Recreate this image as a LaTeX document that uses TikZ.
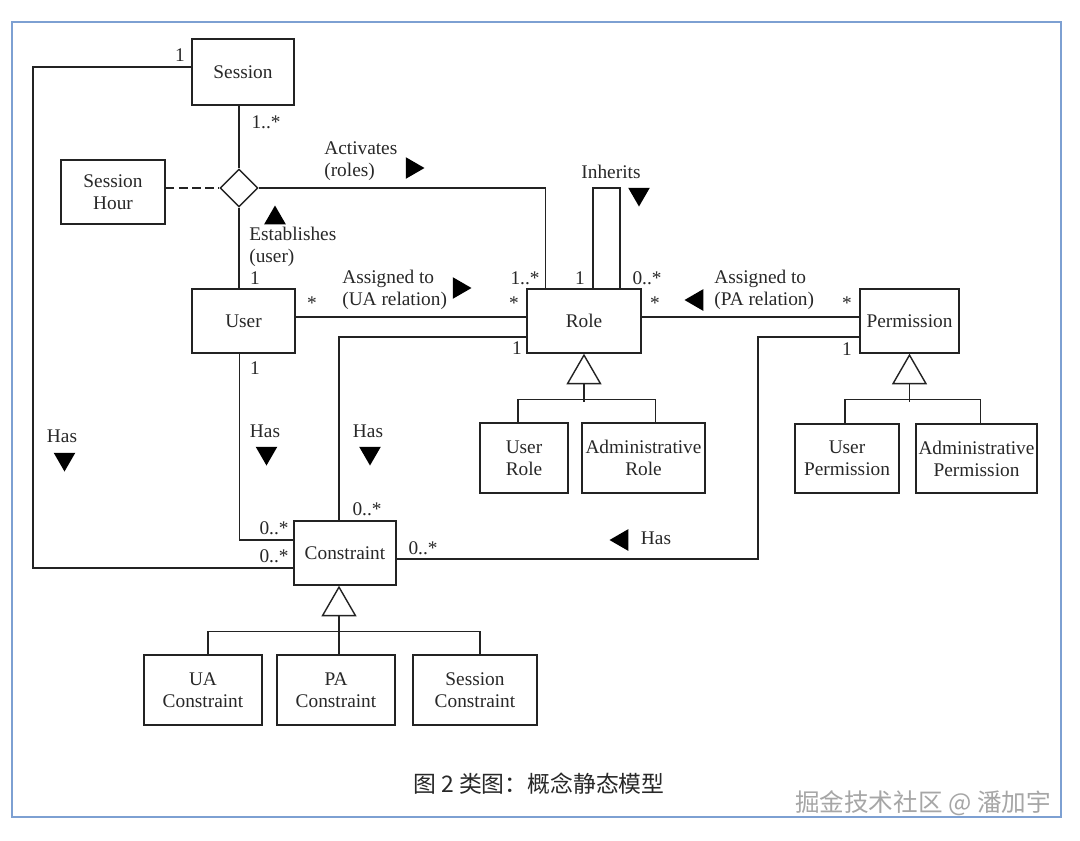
\documentclass[tikz,border=0pt]{standalone}
\usepackage{fontspec}
\setmainfont{Liberation Serif}
\newfontfamily\cjk{Noto Sans CJK SC}
\usetikzlibrary{shapes.geometric, calc}
\definecolor{linec}{RGB}{35,35,35}
\definecolor{txtc}{RGB}{40,40,40}
\definecolor{framec}{RGB}{125,160,210}
\tikzset{
  cls/.style={rectangle, draw=linec, fill=white, line width=0.8pt,
    align=center, inner sep=0pt, minimum height=1.28cm},
  link/.style={draw=linec, line width=0.6pt},
  dashlink/.style={link, dash pattern=on 5pt off 2.5pt},
  mult/.style={inner sep=0pt},
  asc/.style={anchor=west, align=left, inner sep=0pt},
  dirtri/.style={regular polygon, regular polygon sides=3, fill=black,
    inner sep=0pt, minimum size=0.5cm},
  gentri/.style={regular polygon, regular polygon sides=3, draw=linec,
    fill=white, line width=0.8pt, inner sep=0pt, minimum size=0.76cm},
  rhomb/.style={diamond, draw=linec, fill=white, line width=0.8pt,
    minimum width=0.76cm, minimum height=0.76cm, inner sep=0pt}
}

\begin{document}
\begin{tikzpicture}[x=0.02cm, y=-0.02cm,
  every node/.style={font=\fontsize{11}{12.5}\selectfont, text=txtc}]
  \fill[white] (0,0) rectangle (1080,840);
  \useasboundingbox (0,0) rectangle (1080,840);
  \draw[framec, line width=1.1pt] (12,22) rectangle (1061,817);

  % Classes
  \node[cls, minimum width=2.04cm, minimum height=1.32cm] (session) at (243,72) {Session};
  \node[cls, minimum width=2.08cm] (hour) at (113,192) {Session\\Hour};
  \node[rhomb] (act) at (239,188) {};
  \node[cls, minimum width=2.06cm] (user) at (243.5,321) {User};
  \node[cls, minimum width=2.28cm] (role) at (584,321) {Role};
  \node[cls, minimum width=1.98cm] (perm) at (909.5,321) {Permission};
  \node[cls, minimum width=2.04cm] (cons) at (345,553) {Constraint};

  % Sub classes
  \node[cls, minimum width=1.76cm, minimum height=1.40cm] (urole) at (524,458) {User\\Role};
  \node[cls, minimum width=2.46cm, minimum height=1.40cm] (arole) at (643.5,458) {Administrative\\Role};
  \node[cls, minimum width=2.08cm, minimum height=1.38cm] (uperm) at (847,458.5) {User\\Permission};
  \node[cls, minimum width=2.42cm, minimum height=1.38cm] (aperm) at (976.5,458.5) {Administrative\\Permission};
  \node[cls, minimum width=2.36cm, minimum height=1.40cm] (uacons) at (203,690) {UA\\Constraint};
  \node[cls, minimum width=2.36cm, minimum height=1.40cm] (pacons) at (336,690) {PA\\Constraint};
  \node[cls, minimum width=2.48cm, minimum height=1.40cm] (sescons) at (475,690) {Session\\Constraint};

  % Session links
  \coordinate (railL) at (33,568);
  \draw[link] ($(session.west)+(0,-5)$) -| (railL) -- (railL -| cons.west);
  \draw[link] (session.south -| act) -- (act.north);
  \draw[dashlink] (hour.east |- act) -- (act.west);
  \draw[link] (act.south) -- (act |- user.north);
  \coordinate (actin) at ($(role.north west)+(19,0)$);
  \draw[link] (act.east) -| (actin);

  % Inherits loop
  \coordinate (inh1) at ($(role.north)+(9,0)$);
  \coordinate (inh2) at ($(role.north)+(36,0)$);
  \draw[link] (inh1) -- (inh1 |- act) -- (inh2 |- act) -- (inh2);

  % UA, PA and Has links
  \draw[link] ($(user.east)+(0,-4)$) -- ($(role.west)+(0,-4)$);
  \draw[link] ($(role.west)+(0,16)$) -| ($(cons.north)+(-6,0)$);
  \draw[link] ($(role.east)+(0,-4)$) -- ($(perm.west)+(0,-4)$);
  \coordinate (railR) at (758,559);
  \draw[link] ($(perm.west)+(0,16)$) -| (railR) -- (railR -| cons.east);
  \draw[link] ($(user.south)+(-4,0)$) |- ($(cons.west)+(0,-13)$);

  % Generalisations
  \node[gentri, anchor=corner 1] (rolegen) at (role.south) {};
  \draw[link] (rolegen.side 2) -- ++(0,18);
  \draw[link] ($(urole.north)+(-6,0)$) |- ($(arole.north)+(12,-23)$) -- ($(arole.north)+(12,0)$);
  \node[gentri, anchor=corner 1] (permgen) at (perm.south) {};
  \draw[link] (permgen.side 2) -- ++(0,18);
  \draw[link] ($(uperm.north)+(-2,0)$) |- ($(aperm.north)+(4,-24)$) -- ($(aperm.north)+(4,0)$);
  \node[gentri, anchor=corner 1] (consgen) at ($(cons.south)+(-6,0)$) {};
  \draw[link] (consgen.side 2) -- ($(pacons.north)+(3,0)$);
  \draw[link] ($(uacons.north)+(5,0)$) |- ($(sescons.north)+(5,-23)$) -- ($(sescons.north)+(5,0)$);

  % Association names
  \node[asc] (actlbl) at (324,161) {Activates\\(roles)};
  \node[dirtri, shape border rotate=-90] (actdir) at (412,168) {};
  \node[asc] (estlbl) at (249,247) {Establishes\\(user)};
  \node[dirtri] (estdir) at (275,218) {};
  \node[asc] (ualbl) at (342,290) {Assigned to\\(UA relation)};
  \node[dirtri, shape border rotate=-90] (uadir) at (459,288) {};
  \node (inhlbl) at (611,172) {Inherits};
  \node[dirtri, shape border rotate=180] (inhdir) at (639,194) {};
  \node[asc] (palbl) at (714,290) {Assigned to\\(PA relation)};
  \node[dirtri, shape border rotate=90] (padir) at (697,300) {};
  \node (haslbl1) at (62,436) {Has};
  \node[dirtri, shape border rotate=180] (hasdir1) at (64.5,459) {};
  \node (haslbl2) at (265,431) {Has};
  \node[dirtri, shape border rotate=180] (hasdir2) at (266.5,453) {};
  \node (haslbl3) at (368,431) {Has};
  \node[dirtri, shape border rotate=180] (hasdir3) at (370,453) {};
  \node[dirtri, shape border rotate=90] (hasdir4) at (622,540) {};
  \node (haslbl4) at (656,538) {Has};

  % Multiplicities
  \node[mult] at (180,55) {1};
  \node[mult] at (266,122) {1..*};
  \node[mult] at (255,278) {1};
  \node[mult] at (312,303) {*};
  \node[mult] at (514,303) {*};
  \node[mult] at (525,278) {1..*};
  \node[mult] at (580,278) {1};
  \node[mult] at (647,278) {0..*};
  \node[mult] at (655,303) {*};
  \node[mult] at (847,303) {*};
  \node[mult] at (517,348) {1};
  \node[mult] at (847,349) {1};
  \node[mult] at (255,368) {1};
  \node[mult] at (367,509) {0..*};
  \node[mult] at (274,528) {0..*};
  \node[mult] at (274,556) {0..*};
  \node[mult] at (423,548) {0..*};

  % Caption
  \node[font=\cjk\fontsize{13}{15}\selectfont] (caption) at (539,784) {图 2 类图：概念静态模型};
  \node[font=\cjk\fontsize{14}{16}\selectfont, text=gray!70, anchor=east] (mark) at (1057,803) {掘金技术社区 @ 潘加宇};
\end{tikzpicture}
\end{document}
